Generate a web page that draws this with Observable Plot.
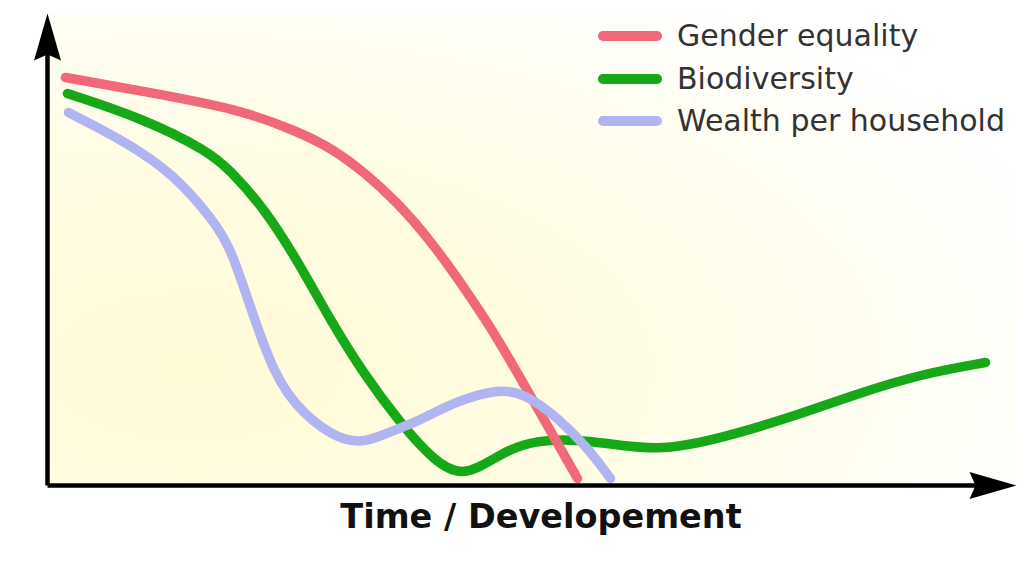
<!DOCTYPE html>
<html>
<head>
<meta charset="utf-8">
<script src="https://cdn.jsdelivr.net/npm/d3@7"></script>
<script src="https://cdn.jsdelivr.net/npm/@observablehq/plot@0.6"></script>
<style>
  html, body { margin: 0; padding: 0; background: #ffffff; }
  #wrap { position: relative; width: 1018px; height: 578px; font-family: "DejaVu Sans", Verdana, sans-serif; }
  #legend { position: absolute; left: 598px; top: 15px; }
  .item { display: flex; align-items: center; height: 42.5px; }
  .sw { width: 64px; height: 10px; border-radius: 5px; margin-right: 15px; }
  .lab { font-size: 30px; color: #333333; line-height: 1; }
</style>
</head>
<body>
<div id="wrap"><div id="legend"></div></div>
<script>
// Series (x: time/development units, y: level units)
const seriesNames = ["Gender equality", "Biodiversity", "Wealth per household"];
const seriesColors = ["#f0687a", "#16a816", "#b0b4f0"];

const genderX = [18, 103, 193, 250, 283, 316, 350, 383, 416, 450, 493, 530];
const genderY = [408, 393, 376, 354, 338, 314, 283, 245, 199, 148, 72, 7];

const bioX = [20, 93, 160, 183, 216, 250, 283, 316, 353, 386, 416, 453, 486, 543, 610, 676, 743, 810, 876, 938];
const bioY = [392, 368, 335, 315, 278, 225, 165, 112, 62, 25, 7, 32, 46, 46, 33, 48, 68, 92, 112, 123];

const wealthX = [21, 76, 126, 166, 183, 203, 226, 253, 303, 336, 373, 403, 453, 480, 510, 540, 563];
const wealthY = [373, 345, 312, 265, 238, 178, 112, 72, 38, 51, 65, 82, 98, 90, 68, 38, 7];

const axisMaxX = 969;
const axisMaxY = 472;
const xLabel = "Time / Developement";

const rows = [];
[[genderX, genderY], [bioX, bioY], [wealthX, wealthY]].forEach(([xs, ys], s) => {
  xs.forEach((x, i) => rows.push({series: seriesNames[s], x, y: ys[i]}));
});
const drawOrder = [seriesNames[1], seriesNames[0], seriesNames[2]];

const arrowHead = {
  draw(ctx) {
    ctx.moveTo(0, 0);
    ctx.lineTo(13.5, 47);
    ctx.lineTo(0, 41);
    ctx.lineTo(-13.5, 47);
    ctx.closePath();
  }
};

const plot = Plot.plot({
  width: 1018,
  height: 578,
  marginLeft: 47,
  marginRight: 2,
  marginTop: 13,
  marginBottom: 93,
  style: {fontFamily: "DejaVu Sans, Verdana, sans-serif", background: "transparent"},
  x: {domain: [0, axisMaxX], axis: null},
  y: {domain: [0, axisMaxY], axis: null},
  color: {domain: seriesNames, range: seriesColors},
  marks: [
    Plot.frame({fill: "url(#bgGrad)", stroke: null}),
    ...drawOrder.map(name => Plot.line(rows.filter(r => r.series === name), {
      x: "x", y: "y", stroke: "series", strokeWidth: 9.5, curve: "basis",
      strokeLinecap: "round", strokeLinejoin: "round"
    })),
    Plot.link([{x1: 0, y1: 0, x2: axisMaxX - 10, y2: 0}], {x1: "x1", y1: "y1", x2: "x2", y2: "y2", stroke: "#000", strokeWidth: 4.5}),
    Plot.link([{x1: 0, y1: 0, x2: 0, y2: axisMaxY - 10}], {x1: "x1", y1: "y1", x2: "x2", y2: "y2", stroke: "#000", strokeWidth: 4.5}),
    Plot.dot([{x: axisMaxX, y: 0, r: 90}, {x: 0, y: axisMaxY, r: 0}], {
      x: "x", y: "y", rotate: "r", symbol: arrowHead, fill: "#000", stroke: null, r: 10
    }),
    Plot.text([xLabel], {text: d => d, frameAnchor: "bottom", dx: 9, dy: 42, fontSize: 33.5, fontWeight: "bold", fill: "#111"})
  ]
});

const svg = d3.select(plot);
const defs = svg.insert("defs", ":first-child");
const g = defs.append("radialGradient").attr("id", "bgGrad").attr("cx", "0.15").attr("cy", "0.75").attr("r", "0.95");
g.append("stop").attr("offset", "0%").attr("stop-color", "#fffad6");
g.append("stop").attr("offset", "50%").attr("stop-color", "#fffde6");
g.append("stop").attr("offset", "100%").attr("stop-color", "#ffffff");

document.getElementById("wrap").prepend(plot);

const legend = d3.select("#legend");
seriesNames.forEach((n, i) => {
  const it = legend.append("div").attr("class", "item");
  it.append("div").attr("class", "sw").style("background", seriesColors[i]);
  it.append("div").attr("class", "lab").text(n);
});
</script>
</body>
</html>
